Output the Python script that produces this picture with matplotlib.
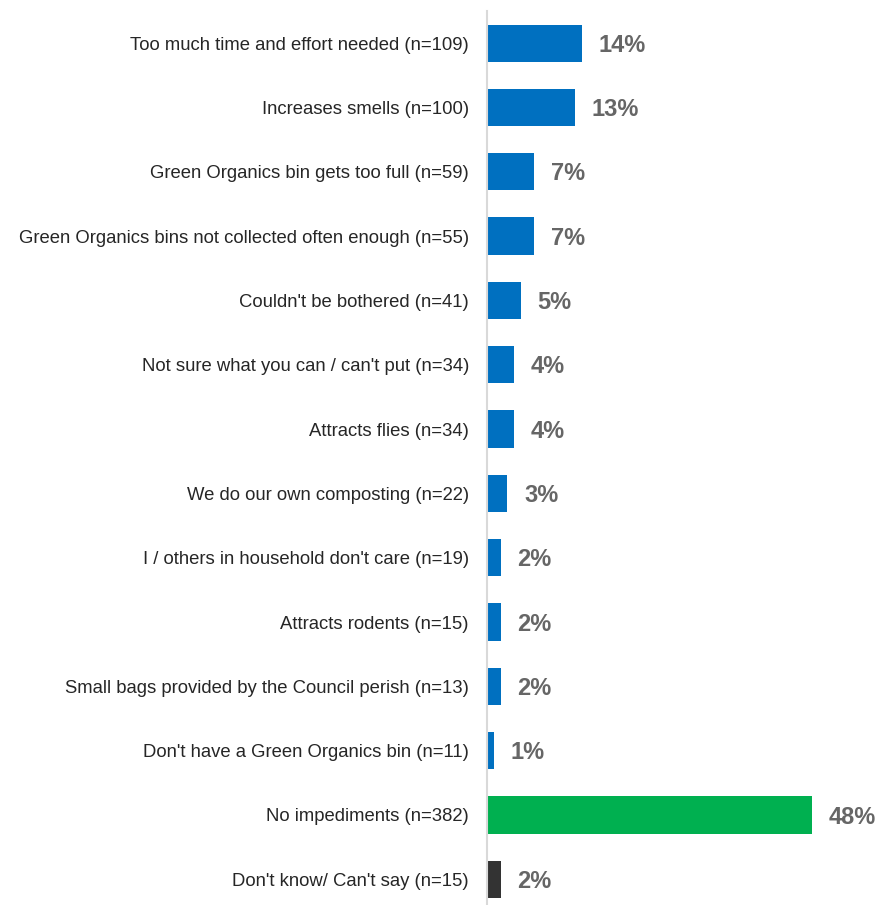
import matplotlib
matplotlib.use("Agg")
import matplotlib.pyplot as plt

categories = [
    "Too much time and effort needed (n=109)",
    "Increases smells (n=100)",
    "Green Organics bin gets too full (n=59)",
    "Green Organics bins not collected often enough (n=55)",
    "Couldn't be bothered (n=41)",
    "Not sure what you can / can't put (n=34)",
    "Attracts flies (n=34)",
    "We do our own composting (n=22)",
    "I / others in household don't care (n=19)",
    "Attracts rodents (n=15)",
    "Small bags provided by the Council perish (n=13)",
    "Don't have a Green Organics bin (n=11)",
    "No impediments (n=382)",
    "Don't know/ Can't say (n=15)",
]
values = [14, 13, 7, 7, 5, 4, 4, 3, 2, 2, 2, 1, 48, 2]
colors = ["#0070C0"] * 12 + ["#00B050", "#333333"]

plt.rcParams['font.family'] = ['Liberation Sans', 'DejaVu Sans']

W, H = 881, 905
fig = plt.figure(figsize=(W / 100, H / 100), dpi=100)
ax_left = 487 / W
ax_top_px = 11
ax = fig.add_axes([ax_left, 0, 1 - ax_left, 1 - ax_top_px / H])

y = list(range(len(categories)))
ax.barh(y, values, height=0.58, color=colors, zorder=2)
ax.set_xlim(0, 48 * (W - 487) / 325)
ax.set_ylim(13.40, -0.5)

for yi, v in zip(y, values):
    ax.annotate(f"{v}%", xy=(v, yi), xytext=(12, -1.5), textcoords="offset points",
                ha="left", va="center", fontsize=17, fontweight="bold", color="#666666")

ax.set_yticks(y)
ax.set_yticklabels(categories, fontsize=13.35, color="#262626")
ax.tick_params(axis="y", length=0, pad=13)
ax.set_xticks([])
for s in ["top", "right", "bottom"]:
    ax.spines[s].set_visible(False)
ax.spines["left"].set_color("#d9d9d9")
ax.spines["left"].set_linewidth(1.5)

fig.savefig("out.png", dpi=100)
